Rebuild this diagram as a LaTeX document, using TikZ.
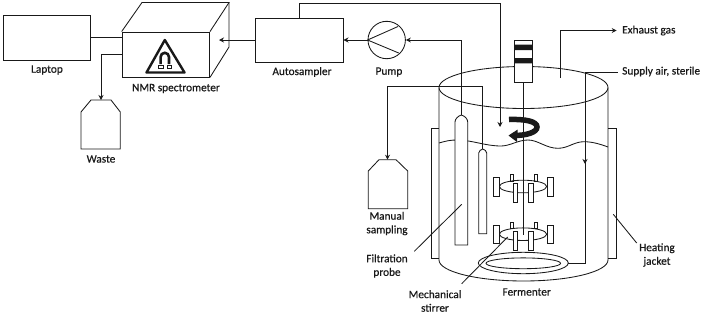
\documentclass[tikz,border=0pt]{standalone}
\usepackage{fontspec}
\setmainfont{Carlito}[RawFeature={embolden=0.6}]
\usetikzlibrary{arrows.meta,calc}
\definecolor{ink}{gray}{0.1}
\tikzset{
  ln/.style={draw=ink,line width=0.85pt},
  pipe/.style={ln,-{Stealth[length=5pt,width=5pt]}},
  boxnode/.style={ln,rectangle,inner sep=0pt,fill=white},
  lbl/.style={font=\fontsize{11.3}{13.6}\selectfont,text=ink,align=center,inner sep=0pt},
  paddle/.style={ln,fill=white,line width=0.75pt},
}
\begin{document}
\begin{tikzpicture}[x=1pt,y=-1pt]
\useasboundingbox (0,0) rectangle (702,314);

% ---- vessel, jacket and liquid surface
\draw[ln] (439,87.5) arc[start angle=180,end angle=-180,x radius=84.5,y radius=21];
\draw[ln] (439,87.5) -- (439,260) arc[start angle=180,end angle=0,x radius=84.5,y radius=21] -- (608,87.5);
\draw[ln] (439,258.7) -| (431.3,128) -- (439,128);
\draw[ln] (608,258.7) -| (616,128) -- (608,128);
\draw[ln] (439,143) .. controls (446,141) and (450,140) .. (457,140)
  .. controls (472,140) and (485,146) .. (501,146)
  .. controls (510,146) and (518,140) .. (528,140)
  .. controls (538,140) and (546,148.3) .. (558,148.3)
  .. controls (568,148.3) and (574,141.7) .. (584,141.7)
  .. controls (592,141.7) and (600,144) .. (608,147);

% ---- equipment boxes
\node[boxnode,minimum width=87.5pt,minimum height=44.5pt] (laptop) at (46.8,37.8) {};
\node[boxnode,minimum width=87.5pt,minimum height=45pt] (nmr) at (165.8,54.5) {};
\node[boxnode,minimum width=87.5pt,minimum height=44pt] (sampler) at (299.3,40) {};
\node[ln,circle,inner sep=0pt,minimum size=37.4pt] (pump) at (386.7,40) {};
\draw[ln] (pump.west) -- (398,26.5);
\draw[ln] (pump.west) -- (398.7,53);
\draw[ln] (nmr.north west) -- (142,2.5) -- (229,2.5) -- (nmr.north east);
\draw[ln] (229,2.5) -- (229,47) -- (nmr.south east);
\coordinate (nmrback) at (219,40);

% ---- magnet warning sign
\draw[draw=ink,line width=2.4pt,line join=round,fill=white] (164.8,40) -- (146.5,72.5) -- (184.5,72.5) -- cycle;
\draw[draw=ink,line width=2.6pt] (160.6,64) -- (160.6,57) arc[start angle=180,end angle=360,radius=4.2] -- (169,64);
\draw[draw=ink,line width=0.6pt] (158.5,65.5) rectangle (163,68.5) (167,65.5) rectangle (171.5,68.5);

% ---- bottles
\draw[ln] (81,149) -- (81,112) -- (91,100) -- (111,100) -- (120.3,112) -- (120.3,149) -- cycle;
\coordinate (wastetop) at (101,100);
\draw[ln] (368.3,208.7) -- (368.3,171) -- (379,159.7) -- (396,159.7) -- (407.7,171) -- (407.7,208.7) -- cycle;
\coordinate (manualtop) at (387.5,159.7);

% ---- probes
\draw[ln,fill=white] (455,245) -- (455,122) .. controls (455,119) and (458,116) .. (461.3,115)
  coordinate (filtertop) .. controls (465,116) and (467.7,119) .. (467.7,122) -- (467.7,245) -- cycle;
\draw[ln,fill=white] (478.7,233.7) -- (478.7,153) .. controls (478.7,151) and (481,149.5) .. (482.7,149)
  coordinate (sampletop) .. controls (484.5,149.5) and (486.7,151) .. (486.7,153) -- (486.7,233.7) -- cycle;

% ---- transfer lines
\draw[ln] (laptop.east |- 0,37.5) -- (nmr.west |- 0,37.5);
\draw[pipe] (nmr.west |- 0,54) -- (101,54) -- (wastetop);
\draw[pipe] (sampler.west) -- (nmrback);
\draw[pipe] (pump.west) -- (sampler.east);
\draw[pipe] (filtertop) -- (461.3,40) -- (pump.east);
\coordinate (samplerout) at (299.5,18);
\draw[pipe] (samplerout) -- (299.5,3.5) -- (500,3.5) -- (500,127);
\draw[pipe] (sampletop) -- (482.7,86) -- (387.5,86) -- (387.5,159.7);
\coordinate (exhaustin) at (560,78);
\node[lbl,anchor=west] (exhaust) at (622,30.5) {Exhaust gas};
\draw[pipe] (exhaustin) -- (560,30.5) -- (616.7,30.5);
\node[lbl,anchor=west] (supply) at (622,71.5) {Supply air, sterile};
\coordinate (supplyend) at (617.7,72);

% ---- sparger ring with its feed
\draw[ln] (523.3,263) ellipse[x radius=45,y radius=10.7];
\draw[ln] (523.3,263.3) ellipse[x radius=37.3,y radius=5.4];
\draw[ln] (568.3,263) -- (585,263) -- (585,160);
\draw[pipe] (supplyend) -- (585,72) -- (585,164);

% ---- stirrer
\draw[ln] (523.3,82.5) -- (523.3,235);
\draw[paddle] (510,174.7) rectangle (513.3,181) (534.3,174.7) rectangle (537.7,181);
\draw[paddle] (510,222) rectangle (513.3,228.3) (534.3,222) rectangle (537.7,228.3);
\draw[ln] (523,186.5) ellipse[x radius=23.7,y radius=6.3];
\draw[ln] (523,234.2) ellipse[x radius=23.7,y radius=6.3];
\draw[paddle] (493.7,177.7) rectangle (499.3,196) (547.3,177.7) rectangle (553,196);
\draw[paddle] (493.7,225) rectangle (499.3,243.3) (547.3,225) rectangle (553,243.3);
\draw[paddle] (513.3,183.7) rectangle (517.3,202.7) (528.7,183.7) rectangle (533.3,202.7);
\draw[paddle] (513.3,231) rectangle (517.3,250) (528.7,231) rectangle (533.3,250);
\draw[ln,fill=white] (514.7,40) rectangle (532.3,82.5);
\fill[ink] (514.7,44.5) rectangle (532.3,50) (514.7,58) rectangle (532.3,63.3);

% ---- rotation arrow
\draw[ink,line width=5.5pt] (509,119.5) .. controls (526,119) and (537,121.5) .. (537,127) .. controls (537,132.5) and (526,135.5) .. (514,135.5);
\fill[ink] (508.5,135.5) -- (517.7,129.5) -- (517,142) -- cycle;

% ---- leader lines
\draw[ln] (461.7,204.3) -- (414.3,251.3);
\draw[ln] (507.7,237) -- (461.7,283.7);
\draw[ln] (613.3,214.3) -- (636.7,243);

% ---- labels
\node[lbl] (tlaptop) at (47,70) {Laptop};
\node[lbl] (tnmr) at (176,88.5) {NMR spectrometer};
\node[lbl] (twaste) at (101,159) {Waste};
\node[lbl] (tsampler) at (302,72) {Autosampler};
\node[lbl] (tpump) at (389,72) {Pump};
\node[lbl] (tmanual) at (387,223.5) {Manual\\sampling};
\node[lbl] (tfilter) at (387,266) {Filtration\\probe};
\node[lbl] (tstirrer) at (435,301) {Mechanical\\stirrer};
\node[lbl] (tferm) at (526.7,292) {Fermenter};
\node[lbl] (tjacket) at (657,255) {Heating\\jacket};
\end{tikzpicture}
\end{document}
